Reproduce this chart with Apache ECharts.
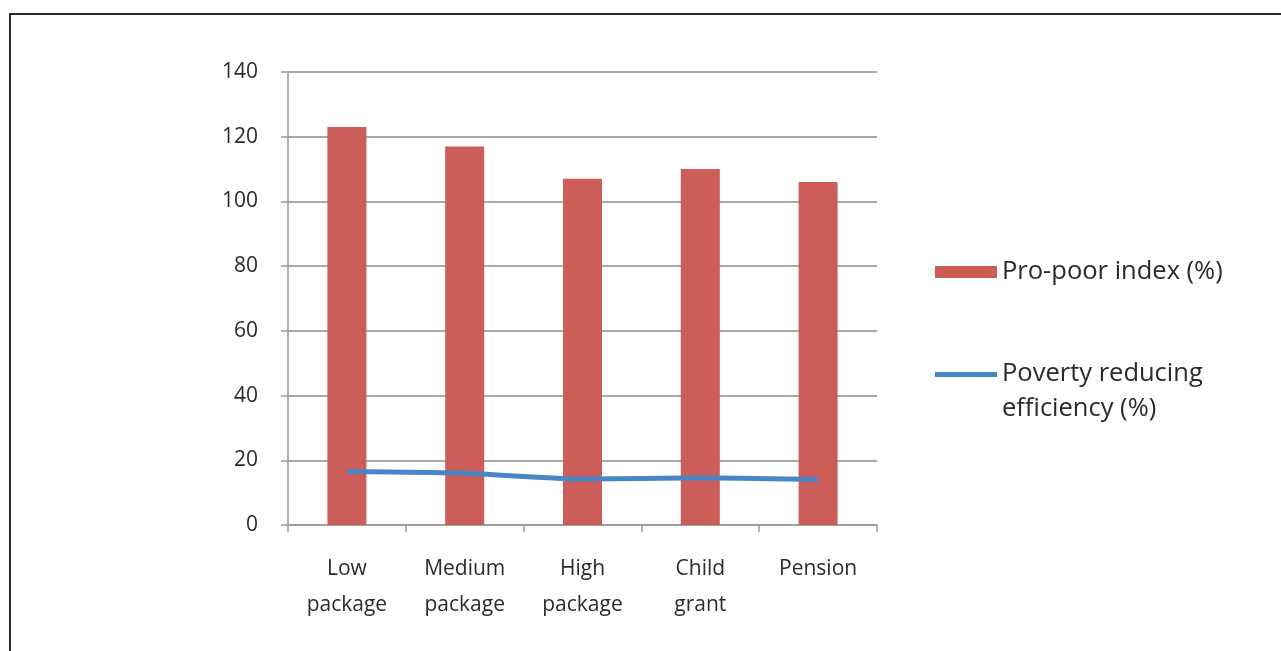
<!DOCTYPE html>
<html>
<head>
<meta charset="utf-8">
<script src="https://cdn.jsdelivr.net/npm/echarts@6/dist/echarts.min.js"></script>
<style>
  html, body { margin: 0; padding: 0; background: #fff; }
  #frame { position: absolute; left: 9px; top: 13px; width: 1400px; height: 800px;
           border-left: 2px solid #2a2a2a; border-top: 2px solid #2a2a2a; box-sizing: border-box; }
  #chart { position: absolute; left: 0; top: 0; width: 1281px; height: 651px; }
</style>
</head>
<body>
<div id="frame"></div>
<div id="chart"></div>
<script>
// Schemes compared
const categories = ['Low\npackage', 'Medium\npackage', 'High\npackage', 'Child\ngrant', 'Pension'];
// Pro-poor index (%)
const proPoorIndex = [123, 117, 107, 110, 106];
// Poverty reducing efficiency (%)
const povertyEfficiency = [16.5, 16.0, 14.2, 14.6, 14.1];
const yTicks = { min: 0, max: 140, interval: 20 };

const barName = 'Pro-poor index (%)';
const lineName = 'Poverty reducing\nefficiency (%)';
const textColor = '#2b2b2b';
const font = 'Open Sans';

const chart = echarts.init(document.getElementById('chart'));
chart.setOption({
  animation: false,
  backgroundColor: 'transparent',
  textStyle: { fontFamily: font },
  grid: { left: 288, top: 72, width: 589, height: 453, containLabel: false },
  legend: [
    {
      data: [barName],
      left: 930, top: 250,
      itemWidth: 62, itemHeight: 12, itemGap: 4,
      icon: 'rect',
      textStyle: { fontFamily: font, fontSize: 25.5, lineHeight: 34, color: textColor }
    },
    {
      data: [lineName],
      left: 930, top: 351,
      itemWidth: 62, itemHeight: 68, itemGap: 4,
      // thin bar level with the first text line, padded by invisible specks
      icon: 'path://M0,0H0.01V0.01Z M0,15H62V20H0Z M0,68H0.01V68.01Z',
      textStyle: { fontFamily: font, fontSize: 25.5, lineHeight: 35, color: textColor }
    }
  ],
  xAxis: {
    type: 'category',
    data: categories,
    boundaryGap: true,
    axisLine: { lineStyle: { color: '#9a9a9a', width: 1.5 } },
    axisTick: { show: true, alignWithLabel: false, length: 7, lineStyle: { color: '#9a9a9a', width: 1.5 } },
    axisLabel: { color: textColor, fontSize: 21, lineHeight: 36, margin: 26, interval: 0, fontFamily: font }
  },
  yAxis: {
    type: 'value',
    min: yTicks.min, max: yTicks.max, interval: yTicks.interval,
    axisLine: { show: true, lineStyle: { color: '#9a9a9a', width: 1.5 } },
    axisTick: { show: true, inside: false, length: 7, lineStyle: { color: '#9a9a9a', width: 1.5 } },
    axisLabel: { color: textColor, fontSize: 21, margin: 30, fontFamily: font },
    splitLine: { show: true, lineStyle: { color: '#a8a8a8', width: 2 } }
  },
  series: [
    {
      name: barName,
      type: 'bar',
      data: proPoorIndex,
      barWidth: 39,
      itemStyle: { color: '#cd5d58' }
    },
    {
      name: lineName,
      type: 'line',
      data: povertyEfficiency,
      symbol: 'none',
      smooth: 0.2,
      lineStyle: { color: '#4a86c5', width: 5 },
      itemStyle: { color: '#4a86c5' },
      z: 5
    }
  ]
});
</script>
</body>
</html>
